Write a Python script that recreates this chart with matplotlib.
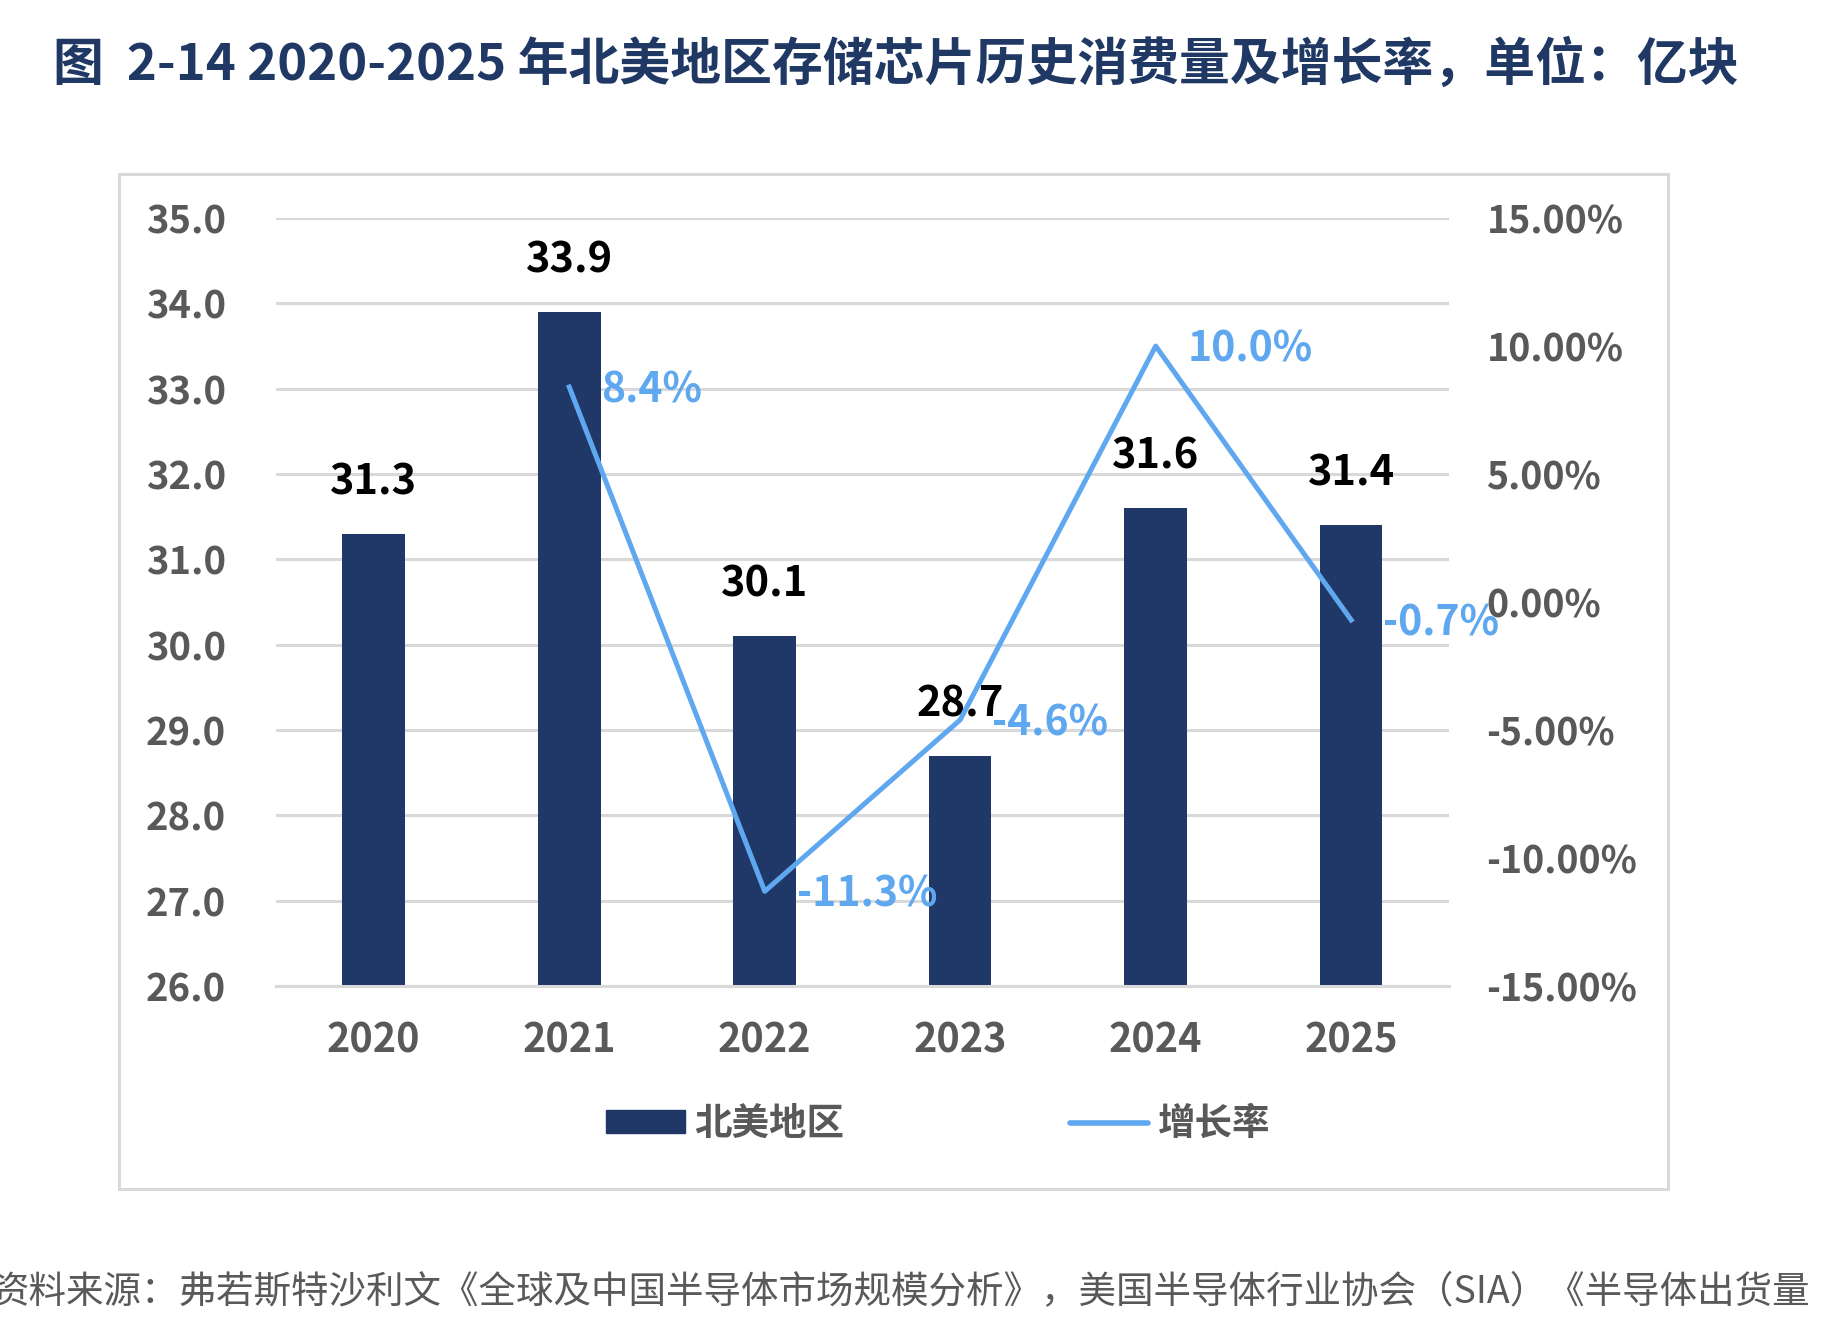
import matplotlib
matplotlib.use("Agg")
import matplotlib.pyplot as plt
from matplotlib.patches import Rectangle
from matplotlib.lines import Line2D
from matplotlib.ticker import FuncFormatter

plt.rcParams['font.family'] = ['Noto Sans CJK SC', 'DejaVu Sans']

# 数据
years = ['2020', '2021', '2022', '2023', '2024', '2025']
volume = [31.3, 33.9, 30.1, 28.7, 31.6, 31.4]
growth_years = ['2021', '2022', '2023', '2024', '2025']
growth = [8.4, -11.3, -4.6, 10.0, -0.7]

title = '图  2-14 2020-2025 年北美地区存储芯片历史消费量及增长率，单位：亿块'
source = '资料来源：弗若斯特沙利文《全球及中国半导体市场规模分析》，美国半导体行业协会（SIA）《半导体出货量'

navy = '#1f3868'
blue = '#5fa8f0'
gray = '#595959'
grid = '#d9d9d9'

fig = plt.figure(figsize=(18.29, 13.28), dpi=100)
ax = fig.add_axes([0.1509, 0.2575, 0.6413, 0.5783])

x = list(range(len(years)))
ax.bar(x, volume, width=0.32, color=navy, zorder=2)
ax.set_xlim(-0.5, len(years) - 0.5)
ax.set_ylim(26, 35)
ax.set_yticks([26 + i for i in range(10)])
ax.yaxis.set_major_formatter(FuncFormatter(lambda v, p: '%.1f' % v))
ax.grid(axis='y', color=grid, linewidth=2.2, zorder=0)
ax.set_axisbelow(True)
for s in ['top', 'right', 'left']:
    ax.spines[s].set_visible(False)
ax.spines['bottom'].set_color(grid)
ax.spines['bottom'].set_linewidth(2.2)
ax.set_xticks(x)
ax.set_xticklabels(years)
ax.tick_params(axis='x', length=0, pad=25, labelsize=28.5, labelcolor=gray)
ax.tick_params(axis='y', length=0, pad=36, labelsize=27.5, labelcolor=gray)
for lb in ax.get_xticklabels() + ax.get_yticklabels():
    lb.set_fontweight('bold')

for xi, v in zip(x, volume):
    ax.annotate('%.1f' % v, (xi, v), xytext=(0, 37), textcoords='offset points',
                ha='center', va='center', fontsize=30, fontweight='bold', color='black')

ax2 = ax.twinx()
gx = [years.index(y) for y in growth_years]
ax2.plot(gx, growth, color=blue, linewidth=3.6, zorder=3)
ax2.set_ylim(-15, 15)
ax2.set_yticks([-15, -10, -5, 0, 5, 10, 15])
ax2.yaxis.set_major_formatter(FuncFormatter(lambda v, p: '%.2f%%' % v))
ax2.tick_params(axis='y', length=0, pad=27, labelsize=27, labelcolor=gray)
for lb in ax2.get_yticklabels():
    lb.set_fontweight('bold')
for s in ax2.spines.values():
    s.set_visible(False)
for xi, g in zip(gx, growth):
    ax2.annotate('%.1f%%' % g, (xi, g), xytext=(23, -2.5), textcoords='offset points',
                 ha='left', va='center', fontsize=29.5, fontweight='bold', color=blue)

# 外框
fig.patches.append(Rectangle((0.0651, 0.1047), 0.8469, 0.7643, transform=fig.transFigure,
                             fill=False, edgecolor=grid, linewidth=2.2))

# 图例
handles = [Rectangle((0, 0), 1, 1, color=navy),
           Line2D([], [], color=blue, linewidth=4, solid_capstyle='round')]
leg = fig.legend(handles, ['北美地区', '增长率'], loc='center', bbox_to_anchor=(0.513, 0.154),
                 ncol=2, frameon=False, handlelength=2.1, handleheight=0.55,
                 handletextpad=0.25, columnspacing=6.0,
                 prop={'size': 27, 'weight': 'bold'})
for t in leg.get_texts():
    t.set_color(gray)

fig.text(0.49, 0.951, title, ha='center', va='center', fontsize=36.6,
         fontweight='bold', color='#1f3864')
fig.text(-0.005, 0.027, source, ha='left', va='center', fontsize=27, color=gray)

fig.savefig('out.png', dpi=100)
